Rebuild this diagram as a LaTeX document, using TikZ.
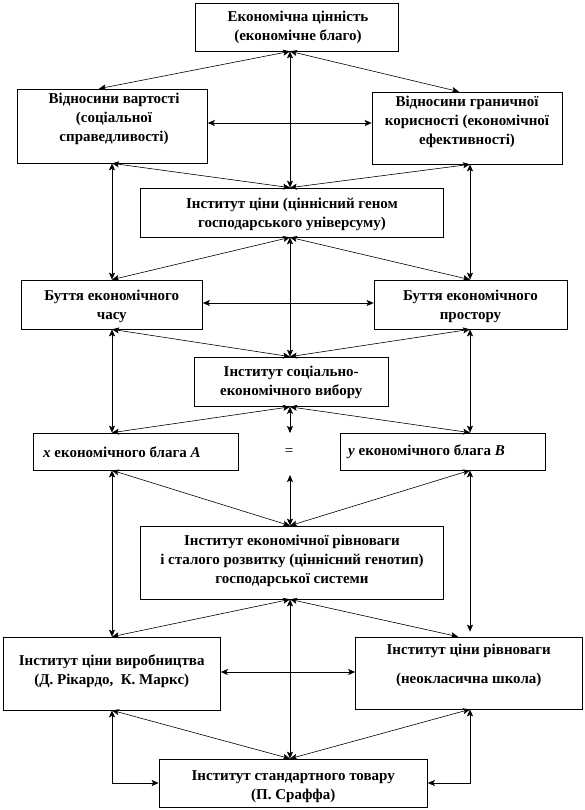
\documentclass[tikz,border=0pt]{standalone}
\usepackage{fontspec}
\setmainfont{Liberation Serif}[BoldFont={Liberation Serif Bold},ItalicFont={Liberation Serif Italic},BoldItalicFont={Liberation Serif Bold Italic}]
\usetikzlibrary{arrows.meta}
\begin{document}
\begin{tikzpicture}[x=1pt,y=-1pt,
  box/.style={draw,line width=0.7pt,inner sep=0pt,rectangle},
  txt/.style={align=center,font=\bfseries\fontsize{15}{19}\selectfont,inner sep=0pt},
  arr/.style={line width=0.6pt,{Stealth[length=7pt,width=6pt,inset=1.5pt]}-{Stealth[length=7pt,width=6pt,inset=1.5pt]}}]
\useasboundingbox (0,0) rectangle (585,810);
% columns
\coordinate (colL) at (112,0);
\coordinate (colC) at (290,0);
\coordinate (colR) at (470,0);
\coordinate (colLa) at (99,0);
\coordinate (colRa) at (459,0);
\coordinate (colRb) at (458,0);
% boxes
\node[box,minimum width=203pt,minimum height=48pt] (top) at (296.5,27) {};
\node[box,minimum width=190pt,minimum height=74pt] (vv) at (112.5,126) {};
\node[box,minimum width=190pt,minimum height=72pt] (vg) at (467,128) {};
\node[box,minimum width=303.6pt,minimum height=49pt] (ic) at (292,212.5) {};
\node[box,minimum width=181.5pt,minimum height=49pt] (bt) at (111.75,304.5) {};
\node[box,minimum width=193pt,minimum height=49pt] (bp) at (470.5,304.5) {};
\node[box,minimum width=193.5pt,minimum height=49.5pt] (sv) at (291.25,381.75) {};
\node[box,minimum width=205.5pt,minimum height=37pt] (xa) at (135.75,451.5) {};
\node[box,minimum width=205pt,minimum height=37pt] (yb) at (442.5,451.5) {};
\node[box,minimum width=303.6pt,minimum height=73pt] (er) at (292,562.5) {};
\node[box,minimum width=217.5pt,minimum height=73pt] (ipv) at (111.75,673.5) {};
\node[box,minimum width=226.5pt,minimum height=72pt] (ipr) at (468.75,673) {};
\node[box,minimum width=268.5pt,minimum height=48pt] (st) at (293.25,783) {};
% texts
\node[txt] (ttop) at (298,27.5) {Економічна цінність\\(економічне благо)};
\node[txt] (tvv) at (114,119) {Відносини вартості\\(соціальної\\справедливості)};
\node[txt] (tvg) at (467,122) {Відносини граничної\\корисності (економічної\\ефективності)};
\node[txt] (tic) at (292,214) {Інститут ціни (ціннісний геном\\господарського універсуму)};
\node[txt] (tbt) at (111.75,306.5) {Буття економічного\\часу};
\node[txt] (tbp) at (470.5,306.5) {Буття економічного\\простору};
\node[txt] (tsv) at (291.25,382) {Інститут соціально-\\економічного вибору};
\node[txt,anchor=west] (txa) at (43,452) {\textit{x} економічного блага \textit{A}};
\node[txt,anchor=west] (tyb) at (348,452) {\textit{y} економічного блага \textit{B}};
\node[font=\fontsize{15}{19}\selectfont,inner sep=0pt] (eq) at (289,452) {=};
\node[txt] (ter) at (292,561) {Інститут економічної рівноваги\\і сталого розвитку (ціннісний генотип)\\господарської системи};
\node[txt] (tipv) at (111.75,671) {Інститут ціни виробництва\\(Д. Рікардо, \ К. Маркс)};
\node[txt] (tipr) at (468.75,665.5) {Інститут ціни рівноваги\\[10pt](неокласична школа)};
\node[txt] (tst) at (293.25,787) {Інститут стандартного товару\\(П. Сраффа)};
% centre column
\coordinate (c1) at (290,433);
\coordinate (c2) at (290,475);
\draw[arr] (top.south -| colC) -- (ic.north -| colC);
\draw[arr] (ic.south -| colC) -- (sv.north -| colC);
\draw[arr] (sv.south -| colC) -- (c1);
\draw[arr] (c2) -- (er.north -| colC);
\draw[arr] (er.south -| colC) -- (st.north -| colC);
% horizontals
\draw[arr] (vv.east |- 0,123) -- (vg.west |- 0,123);
\draw[arr] (bt.east |- 0,303) -- (bp.west |- 0,303);
\draw[arr] (ipv.east |- 0,672) -- (ipr.west |- 0,672);
% left column
\draw[arr] (vv.south -| colL) -- (bt.north -| colL);
\draw[arr] (bt.south -| colL) -- (xa.north -| colL);
\draw[arr] (xa.south -| colL) -- (ipv.north -| colL);
\draw[arr] (ipv.south -| colL) |- (st.west);
% right column
\draw[arr] (vg.south -| colR) -- (bp.north -| colR);
\draw[arr] (bp.south -| colR) -- (yb.north -| colR);
\draw[arr] (yb.south -| colR) -- ([yshift=5pt]ipr.north -| colR);
\draw[arr] (ipr.south -| colR) |- (st.east);
% diagonals
\draw[arr] (top.south -| colC) -- (vv.north -| colLa);
\draw[arr] (top.south -| colC) -- (vg.north -| colRa);
\draw[arr] (ic.north -| colC) -- (vv.south -| colL);
\draw[arr] (ic.north -| colC) -- (vg.south -| colR);
\draw[arr] (ic.south -| colC) -- (bt.north -| colL);
\draw[arr] (ic.south -| colC) -- (bp.north -| colR);
\draw[arr] (bt.south -| colL) -- (sv.north -| colC);
\draw[arr] (bp.south -| colR) -- (sv.north -| colC);
\draw[arr] (sv.south -| colC) -- (xa.north -| colL);
\draw[arr] (sv.south -| colC) -- (yb.north -| colR);
\draw[arr] (xa.south -| colL) -- (er.north -| colC);
\draw[arr] (yb.south -| colR) -- (er.north -| colC);
\draw[arr] (er.south -| colC) -- (ipv.north -| colL);
\draw[arr] (er.south -| colC) -- (ipr.north -| colRb);
\draw[arr] (ipv.south -| colL) -- (st.north -| colC);
\draw[arr] (ipr.south -| colR) -- (st.north -| colC);
\end{tikzpicture}
\end{document}
